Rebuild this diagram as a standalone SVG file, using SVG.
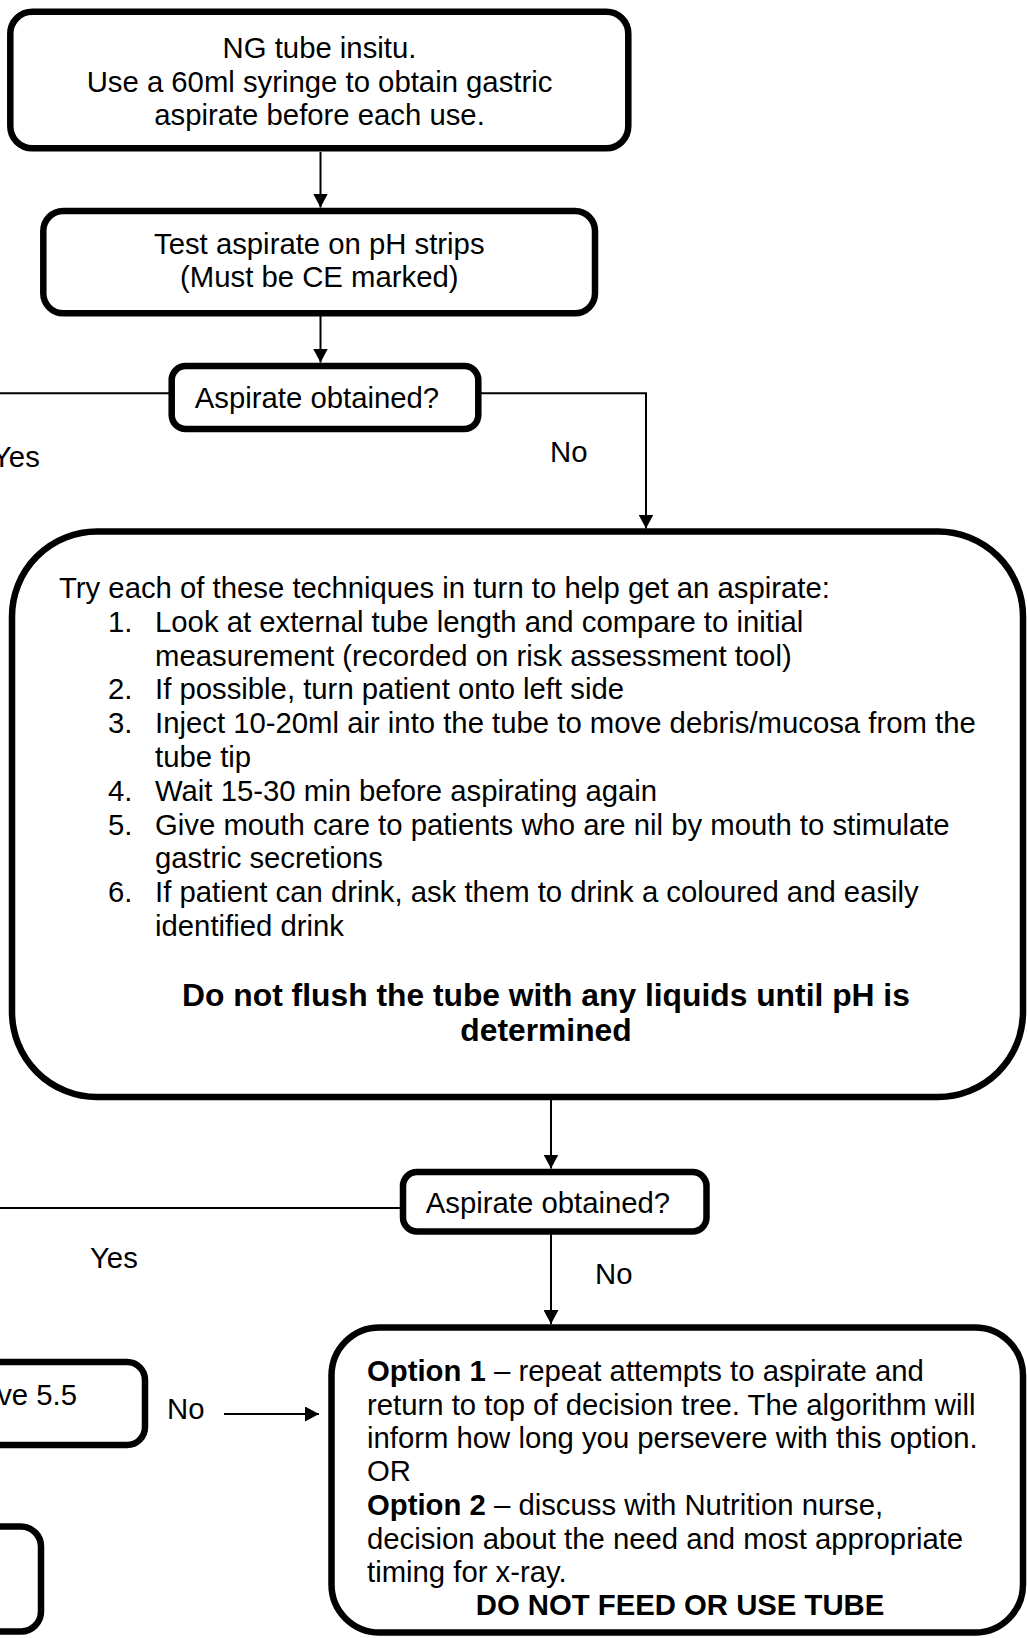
<svg xmlns="http://www.w3.org/2000/svg" width="1027" height="1638" viewBox="0 0 1027 1638">
<style>
  .box { fill: #ffffff; stroke: #000000; stroke-width: 6.5; }
  .big { fill: #ffffff; stroke: #000000; stroke-width: 6.5; }
  .conn { fill: none; stroke: #000000; stroke-width: 2; }
  text { font-family: "Liberation Sans", Arial, sans-serif; font-size: 29.3px; fill: #000000; }
  .c { text-anchor: middle; }
  .b { font-weight: bold; }
  .big-b { font-weight: bold; font-size: 31.8px; }
</style>
<defs>
  <marker id="arrow" markerUnits="userSpaceOnUse" markerWidth="14" markerHeight="15" viewBox="0 0 14 15" refX="14" refY="7.5" orient="auto">
    <path d="M0,0 L14,7.5 L0,15 Z" fill="#000000"/>
  </marker>
</defs>
<rect width="1027" height="1638" fill="#ffffff"/>

<g id="connectors">
  <line class="conn" x1="320.5" y1="152" x2="320.5" y2="207.5" marker-end="url(#arrow)"/>
  <line class="conn" x1="320.5" y1="316" x2="320.5" y2="362.5" marker-end="url(#arrow)"/>
  <line class="conn" x1="0" y1="393.3" x2="169" y2="393.3"/>
  <polyline class="conn" points="481,393.3 646,393.3 646,528.5" marker-end="url(#arrow)"/>
  <line class="conn" x1="551" y1="1100" x2="551" y2="1168.5" marker-end="url(#arrow)"/>
  <line class="conn" x1="0" y1="1208" x2="400" y2="1208"/>
  <line class="conn" x1="551" y1="1234" x2="551" y2="1324" marker-end="url(#arrow)"/>
  <line class="conn" x1="224" y1="1414" x2="319" y2="1414" marker-end="url(#arrow)"/>
</g>

<g id="node-start">
  <rect class="box" x="10.3" y="11.7" width="618" height="136.6" rx="22"/>
  <text class="c" x="319.5" y="58">NG tube insitu.</text>
  <text class="c" x="319.5" y="91.5">Use a 60ml syringe to obtain gastric</text>
  <text class="c" x="319.5" y="125">aspirate before each use.</text>
</g>

<g id="node-test">
  <rect class="box" x="43.3" y="211" width="551.7" height="102.3" rx="20"/>
  <text class="c" x="319.3" y="254">Test aspirate on pH strips</text>
  <text class="c" x="319.3" y="287">(Must be CE marked)</text>
</g>

<g id="node-decision1">
  <rect class="box" x="171.7" y="366" width="306.6" height="63" rx="14"/>
  <text class="c" x="317" y="408">Aspirate obtained?</text>
</g>

<g id="label-yes1"><text x="-8" y="467">Yes</text></g>
<g id="label-no1"><text x="550" y="462">No</text></g>

<g id="node-techniques">
  <rect class="big" x="12" y="531.5" width="1011" height="565.5" rx="85"/>
  <text x="59" y="598">Try each of these techniques in turn to help get an aspirate:</text>
  <text x="108" y="631.8">1.</text>
  <text x="155" y="631.8">Look at external tube length and compare to initial</text>
  <text x="155" y="665.6">measurement (recorded on risk assessment tool)</text>
  <text x="108" y="699.4">2.</text>
  <text x="155" y="699.4">If possible, turn patient onto left side</text>
  <text x="108" y="733.2">3.</text>
  <text x="155" y="733.2">Inject 10-20ml air into the tube to move debris/mucosa from the</text>
  <text x="155" y="767">tube tip</text>
  <text x="108" y="800.8">4.</text>
  <text x="155" y="800.8">Wait 15-30 min before aspirating again</text>
  <text x="108" y="834.6">5.</text>
  <text x="155" y="834.6">Give mouth care to patients who are nil by mouth to stimulate</text>
  <text x="155" y="868.4">gastric secretions</text>
  <text x="108" y="902.2">6.</text>
  <text x="155" y="902.2">If patient can drink, ask them to drink a coloured and easily</text>
  <text x="155" y="936">identified drink</text>
  <text class="c big-b" x="546" y="1005.5">Do not flush the tube with any liquids until pH is</text>
  <text class="c big-b" x="546" y="1040.5">determined</text>
</g>

<g id="node-decision2">
  <rect class="box" x="403" y="1172" width="303.5" height="59.5" rx="14"/>
  <text class="c" x="548" y="1213">Aspirate obtained?</text>
</g>

<g id="label-yes2"><text x="90" y="1268">Yes</text></g>
<g id="label-no2"><text x="595" y="1284">No</text></g>

<g id="node-ph">
  <rect class="box" x="-40" y="1362" width="185" height="83" rx="18"/>
  <text x="77" y="1405" text-anchor="end">ve 5.5</text>
</g>

<g id="label-no3"><text x="167" y="1419">No</text></g>

<g id="node-bottom-left">
  <rect class="box" x="-60" y="1526.5" width="101" height="105" rx="20"/>
</g>

<g id="node-options">
  <rect class="big" x="331.5" y="1327.5" width="691.5" height="305" rx="48"/>
  <text x="367" y="1381"><tspan class="b">Option 1</tspan> – repeat attempts to aspirate and</text>
  <text x="367" y="1414.5">return to top of decision tree. The algorithm will</text>
  <text x="367" y="1448">inform how long you persevere with this option.</text>
  <text x="367" y="1481">OR</text>
  <text x="367" y="1515"><tspan class="b">Option 2</tspan> – discuss with Nutrition nurse,</text>
  <text x="367" y="1548.5">decision about the need and most appropriate</text>
  <text x="367" y="1582">timing for x-ray.</text>
  <text class="c b" x="680" y="1615">DO NOT FEED OR USE TUBE</text>
</g>
</svg>
